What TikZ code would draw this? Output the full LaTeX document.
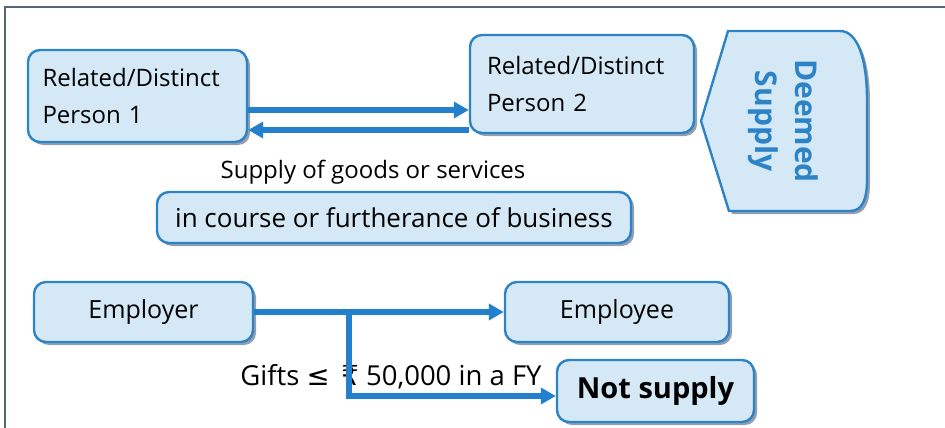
\documentclass[tikz,border=0pt]{standalone}
\usepackage{fontspec}
\setmainfont{Open Sans}
\newfontfamily\symfont{DejaVu Sans}
\usetikzlibrary{arrows.meta, shadows}
\definecolor{boxblue}{RGB}{44,132,198}
\definecolor{arrblue}{RGB}{34,128,204}
\definecolor{boxfill}{RGB}{213,232,246}
\definecolor{shadowgray}{RGB}{148,158,174}
\definecolor{framegray}{RGB}{85,100,120}
\newcommand{\fsz}[2]{\fontsize{#1}{#2}\selectfont}

\begin{document}
\begin{tikzpicture}[x=1pt, y=1pt,
  box/.style={draw=boxblue, line width=2.4pt, fill=boxfill, rounded corners=12pt, inner sep=0pt,
              drop shadow={shadow xshift=3pt, shadow yshift=-3pt, fill=shadowgray, opacity=1}},
  tag/.style={draw=boxblue, line width=2.4pt, fill=boxfill,
              drop shadow={shadow xshift=3pt, shadow yshift=-3pt, fill=shadowgray, opacity=1}},
  arr/.style={-{Triangle[length=15pt, width=16pt]}, line width=5.2pt, draw=arrblue},
]
  \useasboundingbox (0,0) rectangle (945,-428);
  \draw[framegray, line width=1.5pt] (5,-428) -- (5,-7) -- (945,-7);

  % related / distinct persons
  \node[box, minimum width=219pt, minimum height=92pt, text width=190pt, align=left,
        font=\fsz{24}{37}] (p1) at (137.5,-96) {Related/Distinct\\Person 1};
  \node[box, minimum width=224pt, minimum height=98pt, text width=190pt, align=left,
        font=\fsz{24}{37}] (p2) at (582,-84) {Related/Distinct\\Person 2};

  \draw[arr] ([yshift=-14pt]p1.east) -- ([yshift=-14pt]p1.east -| p2.west);
  \draw[arr] ([yshift=-34pt]p1.east -| p2.west) -- ([yshift=-34pt]p1.east);

  \node[font=\fsz{24}{28}] (supplylbl) at (373,-172) {Supply of goods or services};
  \node[box, minimum width=474pt, minimum height=51pt, font=\fsz{26}{30}]
       (course) at (394,-217.5) {in course or furtherance of business};

  % deemed supply tag
  \draw[tag] (728,-31) -- (840,-31) .. controls (858,-31) and (867,-60) .. (867,-100)
    -- (867,-180) .. controls (867,-200) and (862,-211) .. (850,-211)
    -- (729,-211) -- (701,-121) -- cycle;
  \node[rotate=-90, align=center, text=boxblue, font=\bfseries\fsz{30}{40}]
       (deemed) at (783,-121) {Deemed\\Supply};

  % employer / employee
  \node[box, minimum width=219pt, minimum height=60pt, font=\fsz{25}{30}]
       (employer) at (143.5,-312) {Employer};
  \node[box, minimum width=224pt, minimum height=60pt, font=\fsz{25}{30}]
       (employee) at (617,-312) {Employee};
  \node[box, minimum width=197pt, minimum height=62pt, font=\bfseries\fsz{29}{34}]
       (notsup) at (655.5,-391) {Not supply};
  \node[font=\fsz{27.5}{32}] (gifts) at (391,-377)
       {Gifts {\symfont ≤}\, {\symfont ₹} 50,000 in a FY};

  \coordinate (fork) at (349,-312);
  \draw[arr] (employer) -- (employee);
  \draw[arr] (fork) |- ([yshift=-5pt]notsup.west);
\end{tikzpicture}
\end{document}
